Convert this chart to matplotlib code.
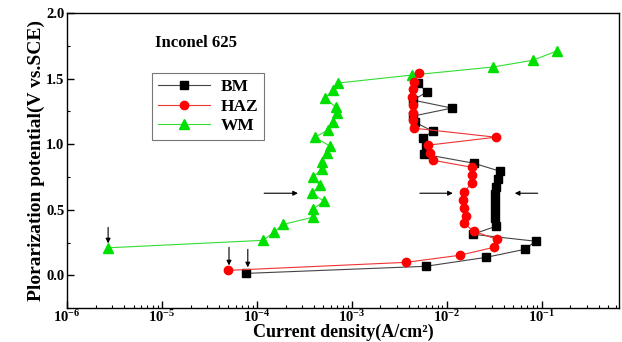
import matplotlib
matplotlib.use("Agg")
import matplotlib.pyplot as plt
from matplotlib.ticker import FixedLocator, LogLocator, NullFormatter, MultipleLocator
from matplotlib.lines import Line2D

plt.rcParams['font.family'] = ['Liberation Serif', 'DejaVu Serif']
plt.rcParams['font.weight'] = 'bold'
plt.rcParams['mathtext.fontset'] = 'custom'
plt.rcParams['mathtext.rm'] = 'Liberation Serif:bold'
plt.rcParams['mathtext.bf'] = 'Liberation Serif:bold'
plt.rcParams['mathtext.it'] = 'Liberation Serif:italic:bold'

# BM (base metal)
bm_i = [7.7e-5, 6.0e-3, 0.0258, 0.066, 0.0865, 0.0188, 0.0328, 0.032, 0.032, 0.032, 0.032, 0.0328,
        0.0344, 0.0361, 0.0192, 5.7e-3, 6.0e-3, 5.6e-3, 7.1e-3, 4.6e-3, 4.4e-3, 0.0113, 4.4e-3,
        6.15e-3, 4.95e-3]
bm_v = [0.015, 0.069, 0.137, 0.198, 0.26, 0.313, 0.374, 0.435, 0.496, 0.557, 0.618, 0.672,
        0.733, 0.794, 0.855, 0.924, 0.977, 1.046, 1.099, 1.168, 1.214, 1.275, 1.336,
        1.397, 1.466]

# HAZ
haz_i = [4.95e-5, 3.7e-3, 0.0137, 0.0313, 0.0336, 0.0192, 0.0151, 0.0158, 0.0151, 0.0147,
         0.0151, 0.0183, 0.0183, 0.0183, 7.1e-3, 6.6e-3, 6.3e-3, 0.0328, 4.5e-3, 4.4e-3,
         4.4e-3, 4.4e-3, 4.3e-3, 4.4e-3, 4.5e-3, 5.07e-3]
haz_v = [0.038, 0.099, 0.153, 0.214, 0.275, 0.336, 0.397, 0.45, 0.511, 0.573,
         0.634, 0.702, 0.763, 0.824, 0.878, 0.931, 0.992, 1.053, 1.122, 1.183,
         1.237, 1.298, 1.359, 1.42, 1.473, 1.542]

# WM (weld metal)
wm_i = [2.7e-6, 1.16e-4, 1.5e-4, 1.9e-4, 3.88e-4, 3.88e-4, 5.07e-4, 3.79e-4, 4.6e-4, 3.88e-4,
        4.83e-4, 4.83e-4, 5.46e-4, 5.86e-4, 4.08e-4, 5.59e-4, 6.3e-4, 6.95e-4, 6.79e-4,
        5.2e-4, 6.3e-4, 7.13e-4, 4.3e-3, 3.05e-2, 8.1e-2, 0.144]
wm_v = [0.21, 0.267, 0.328, 0.389, 0.443, 0.504, 0.565, 0.626, 0.687, 0.748,
        0.809, 0.863, 0.931, 0.985, 1.053, 1.107, 1.168, 1.237, 1.282,
        1.351, 1.412, 1.466, 1.527, 1.588, 1.64, 1.71]

# arrows: (x_from, y_from, x_to, y_to)
down_arrows = [(2.7e-6, 0.366, 2.7e-6, 0.244),
               (5.07e-5, 0.214, 5.07e-5, 0.076),
               (8.0e-5, 0.198, 8.0e-5, 0.061)]
side_arrows = [(1.19e-4, 0.626, 2.7e-4, 0.626),
               (5.2e-3, 0.626, 0.01156, 0.626),
               (0.0908, 0.626, 0.052, 0.626)]

fig = plt.figure(figsize=(6.22, 3.42), dpi=100)
ax = fig.add_axes([0.108, 0.099, 0.887, 0.863])

ax.plot(wm_i, wm_v, color='#33dd33', lw=0.8, marker='^', ms=6.5, mfc='#00e000', mec='#00e000', zorder=2)
ax.plot(bm_i, bm_v, color='#444444', lw=0.8, marker='s', ms=5.5, mfc='black', mec='black', zorder=3)
ax.plot(haz_i, haz_v, color='#ee3333', lw=0.8, marker='o', ms=6, mfc='#ff0000', mec='#ff0000', zorder=4)

for x0, y0, x1, y1 in down_arrows + side_arrows:
    ax.annotate('', xy=(x1, y1), xytext=(x0, y0),
                arrowprops=dict(arrowstyle='-|>', color='black', lw=0.8,
                                mutation_scale=7, shrinkA=0, shrinkB=0))

ax.set_xscale('log')
ax.set_xlim(1e-6, 0.65)
ax.set_ylim(-0.25, 2.0)

ax.xaxis.set_major_locator(FixedLocator([1e-6, 1e-5, 1e-4, 1e-3, 1e-2, 1e-1]))
ax.set_xticklabels([r'$\mathrm{10^{-6}}$', r'$\mathrm{10^{-5}}$', r'$\mathrm{10^{-4}}$',
                    r'$\mathrm{10^{-3}}$', r'$\mathrm{10^{-2}}$', r'$\mathrm{10^{-1}}$'])
ax.xaxis.set_minor_locator(LogLocator(base=10, subs=range(2, 10), numticks=20))
ax.xaxis.set_minor_formatter(NullFormatter())
ax.yaxis.set_major_locator(FixedLocator([0.0, 0.5, 1.0, 1.5, 2.0]))
ax.yaxis.set_minor_locator(MultipleLocator(0.25))
ax.set_yticklabels(['0.0', '0.5', '1.0', '1.5', '2.0'])

ax.tick_params(axis='both', which='major', direction='in', length=5, width=1, labelsize=10.5)
ax.tick_params(axis='both', which='minor', direction='in', length=2.5, width=0.8)
ax.tick_params(axis='x', pad=1)
ax.tick_params(axis='y', pad=2)
for s in ax.spines.values():
    s.set_linewidth(1.0)

ax.set_xlabel('Current density(A/cm²)', fontsize=13, fontweight='bold', labelpad=-1)
ax.set_ylabel('Plorarization potential(V vs.SCE)', fontsize=14, fontweight='bold', labelpad=1)

ax.text(8.5e-6, 1.77, 'Inconel 625', fontsize=12, fontweight='bold', ha='left', va='center')

handles = [Line2D([], [], color='#444444', lw=0.8, marker='s', ms=5.5, mfc='black', mec='black'),
           Line2D([], [], color='#ee3333', lw=0.8, marker='o', ms=6, mfc='#ff0000', mec='#ff0000'),
           Line2D([], [], color='#33dd33', lw=0.8, marker='^', ms=6.5, mfc='#00e000', mec='#00e000')]
leg = ax.legend(handles, ['BM', 'HAZ', 'WM'], loc='upper left', bbox_to_anchor=(0.154, 0.797),
                frameon=True, fancybox=False, edgecolor='#555555',
                handlelength=3.0, handletextpad=0.6, borderpad=0.35, labelspacing=0.2,
                borderaxespad=0, prop={'weight': 'bold', 'size': 12.5})
leg.get_frame().set_linewidth(0.8)

fig.savefig('out.png', dpi=100)
